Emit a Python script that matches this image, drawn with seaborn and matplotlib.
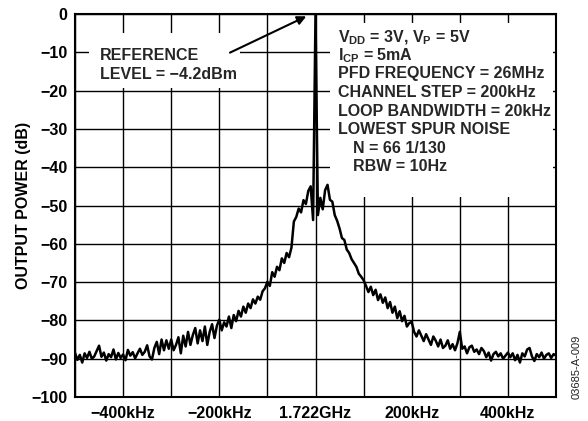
import numpy as np
import pandas as pd
import matplotlib
matplotlib.use("Agg")
import matplotlib.pyplot as plt
from matplotlib.patches import Rectangle
import seaborn as sns

# analyzer sweep: 201 bins, 5 kHz apart, centred on the 1.722 GHz carrier
freq_khz = np.arange(-500, 501, 5)

# trace (dB relative to carrier), 10 bins per row
power_db = [
    -88.5, -90.3, -89.0, -91.0, -88.6, -89.8, -88.2, -90.0, -89.4, -88.0,
    -86.6, -89.5, -88.4, -90.5, -88.8, -89.6, -87.6, -90.2, -88.5, -89.8,
    -88.9, -90.4, -87.7, -89.2, -88.3, -89.9, -88.6, -87.4, -89.0, -88.2,
    -86.5, -89.4, -90.2, -87.2, -85.6, -88.8, -85.0, -87.8, -85.2, -87.4,
    -85.0, -87.8, -86.4, -84.4, -88.6, -84.0, -86.8, -83.0, -86.4, -83.8,
    -82.0, -86.0, -82.6, -85.4, -81.6, -86.4, -83.0, -81.0, -84.6, -81.4,
    -79.8, -82.6, -80.5, -81.6, -79.0, -82.0, -78.6, -80.2, -77.5, -79.0,
    -76.4, -78.0, -75.6, -76.8, -74.5, -75.6, -73.8, -74.6, -72.4, -71.6,
    -69.9, -71.0, -67.4, -68.6, -66.0, -66.9, -63.8, -65.0, -62.4, -63.5,
    -61.0, -54.2, -53.0, -50.8, -51.8, -48.6, -49.6, -46.2, -45.0, -53.8,
    0.0,
    -52.5, -48.0, -51.0, -46.0, -44.6, -48.5, -49.0, -52.5, -54.0, -56.0,
    -58.5, -59.0, -61.5, -62.4, -64.0, -65.0, -66.0, -67.8, -68.6, -69.5,
    -71.0, -72.6, -71.2, -73.4, -72.0, -74.7, -73.2, -75.4, -74.0, -76.8,
    -75.2, -78.0, -76.4, -79.4, -77.6, -80.2, -78.8, -81.6, -80.7, -80.4,
    -83.0, -84.2, -82.6, -84.0, -85.4, -83.6, -85.0, -86.4, -84.2, -85.3,
    -86.8, -85.0, -87.2, -86.6, -85.2, -87.4, -86.2, -87.8, -86.0, -83.0,
    -87.4, -86.8, -88.6, -87.0, -86.6, -88.2, -87.6, -88.8, -87.2, -88.0,
    -89.6, -88.4, -90.5, -88.8, -88.2, -89.4, -88.6, -90.0, -89.2, -88.4,
    -89.6, -88.6, -90.4, -89.0, -91.0, -88.6, -89.4, -87.6, -87.2, -89.4,
    -90.6, -88.8, -89.6, -88.4, -90.0, -89.0, -88.6, -89.8, -88.8, -89.2,
]

x_ticks = [-400, -200, 0, 200, 400]
x_labels = ["\u2212400kHz", "\u2212200kHz", "1.722GHz", "200kHz", "400kHz"]
x_grid = [-500, -400, -300, -200, -100, 0, 100, 200, 300, 400, 500]
y_ticks = [0, -10, -20, -30, -40, -50, -60, -70, -80, -90, -100]
y_labels = ["0"] + ["\u2212%d" % abs(v) for v in y_ticks[1:]]

notes = [
    "V$_{DD}$ = 3V, V$_{P}$ = 5V",
    "I$_{CP}$ = 5mA",
    "PFD FREQUENCY = 26MHz",
    "CHANNEL STEP = 200kHz",
    "LOOP BANDWIDTH = 20kHz",
    "LOWEST SPUR NOISE",
    "N = 66 1/130",
    "RBW = 10Hz",
]
note_indent = [False, False, False, False, False, False, True, True]

df = pd.DataFrame({"freq_khz": freq_khz, "power_db": power_db})

sns.set_theme(style="white")
plt.rcParams["font.family"] = ["Liberation Sans", "DejaVu Sans"]
plt.rcParams["font.weight"] = "bold"
plt.rcParams["mathtext.fontset"] = "custom"
plt.rcParams["mathtext.rm"] = "Liberation Sans:bold"
plt.rcParams["mathtext.default"] = "rm"

fig = plt.figure(figsize=(5.88, 4.21), dpi=100)
ax = fig.add_axes([75 / 588, 1 - 397 / 421, 481 / 588, 383 / 421])

sns.lineplot(data=df, x="freq_khz", y="power_db", ax=ax, color="black",
             linewidth=1.8, estimator=None, zorder=2)

ax.set_xlim(-500, 500)
ax.set_ylim(-100, 0)
ax.set_xticks(x_ticks)
ax.set_xticklabels(x_labels)
ax.set_xticks(x_grid, minor=True)
ax.set_yticks(y_ticks)
ax.set_yticklabels(y_labels)
ax.tick_params(axis="both", which="both", length=0, labelsize=11.5,
               colors="black")
ax.tick_params(axis="x", pad=6.5)
ax.tick_params(axis="y", pad=5.5)
for lab in ax.get_xticklabels() + ax.get_yticklabels():
    lab.set_fontweight("bold")
ax.set_axisbelow(True)
ax.grid(True, which="both", color="black", linewidth=1.0)
for s in ax.spines.values():
    s.set_color("black")
    s.set_linewidth(1.5)

ax.set_xlabel("")
ax.set_ylabel("OUTPUT POWER (dB)", fontsize=11.5, fontweight="bold",
              color="black", labelpad=0)

# white panels that hide the grid behind the notes
ax.add_patch(Rectangle((-470, -19.3), 312, 14.3, facecolor="white",
                       edgecolor="none", zorder=1))
ax.add_patch(Rectangle((31, -47.8), 462, 45.5, facecolor="white",
                       edgecolor="none", zorder=1))

ax.text(-449, -12.0, "REFERENCE", fontsize=11.5, fontweight="bold", zorder=3)
ax.text(-449, -17.0, "LEVEL = \u22124.2dBm", fontsize=11.5,
        fontweight="bold", zorder=3)
ax.annotate("", xy=(-14, -0.3), xytext=(-183, -10.4),
            arrowprops=dict(arrowstyle="-|>", color="black", lw=1.5,
                            mutation_scale=13), zorder=3)

baselines = [-7.3, -12.0, -16.7, -21.7, -26.6, -31.3, -36.3, -41.0]
for txt, yb, ind in zip(notes, baselines, note_indent):
    ax.text(77 if ind else 47, yb, txt, fontsize=11.5, fontweight="bold",
            va="baseline", zorder=3)

fig.text(577 / 588, 1 - 367 / 421, "03685-A-009", rotation=90, fontsize=8,
         fontweight="normal", ha="center", va="center", color="#222222")

fig.savefig("out.png", dpi=100)
